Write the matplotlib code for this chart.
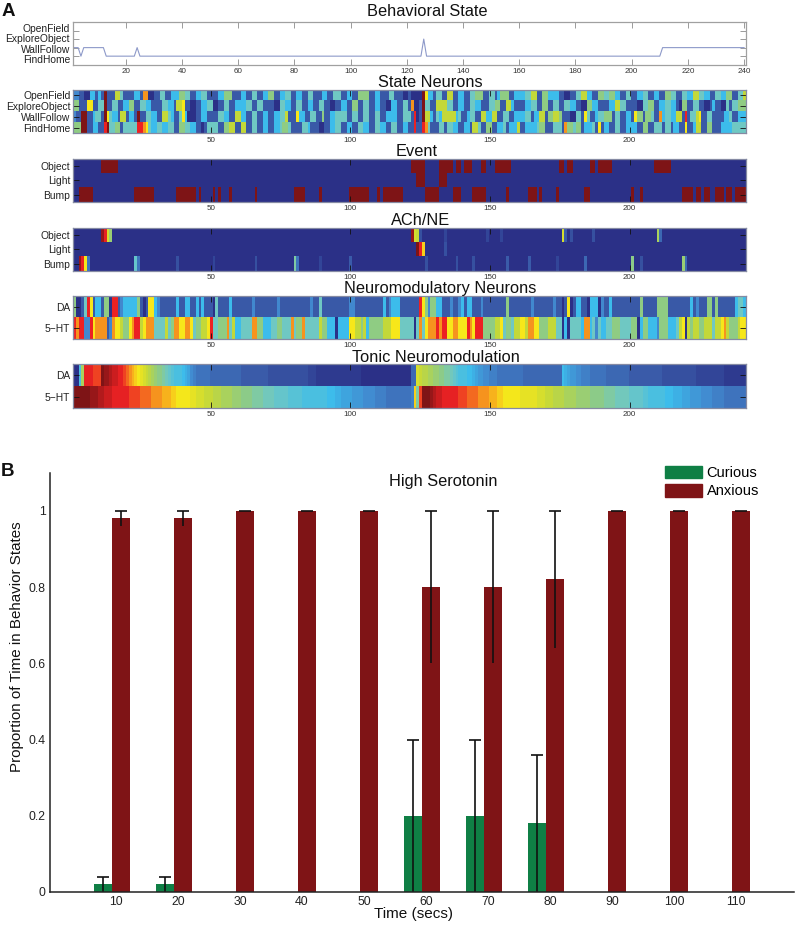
import numpy as np
import matplotlib
matplotlib.use("Agg")
import matplotlib.pyplot as plt
from matplotlib.colors import LinearSegmentedColormap
from matplotlib.patches import Patch

plt.rcParams['font.family'] = ['Liberation Sans', 'DejaVu Sans']

W, H = 797, 926
N_COL = 241

# ---- data -----------------------------------------------------------------
STATE_LABELS = ['OpenField', 'ExploreObject', 'WallFollow', 'FindHome']
EVENT_LABELS = ['Object', 'Light', 'Bump']
NM_LABELS = ['DA', '5\u2212HT']

# behavioural state over time: (state, number of seconds)
BEHAVIOR_RUNS = [(2, 3), (1, 1), (2, 8), (1, 11), (2, 1), (1, 101), (3, 1), (1, 84), (2, 30)]

# one hex digit per column, 0 (low) .. a (high)
STATE_OPENFIELD = """2211003313 1a11166411 1133188001 1441133355
4411334411 1133555111 3311441133 5511334411
3311441113 3114441133 1155551133 1114411100
10000a7331 4411661133 1144555114 4135551133
3344661155 3333110011 4466331155 4455331144
1133441133 1155441144 3366443311 4433551144 6"""
STATE_EXPLORE = """5511177114 4a11441133 5511443311 1144331667
1100113344 0011441133 3344114411 1100443311
4411331144 1100113311 5511441133 1100331144
18001a4411 6666441133 1144331114 4551166311
1133441155 1144114433 1100553311 1133664411
1100445511 3344331055 1144110013 1100414455 5"""
STATE_WALL = """211aa11344 1a74331661 331a114433 1166431147
3000113311 1144331166 3311441133 1133446111
7331144115 1133444411 4411441144 1133331144
41901a6631 4366666341 1344116633 6611441133
3344133661 5566511100 4417411344 5551441133
1755155411 8344336619 1446711441 1113341133 3"""
STATE_HOME = """555aa11331 19a4455144 4449987433 4433441155
4433110144 4411556611 6611441133 1133455411
1144311100 1133441133 1144331144 3311441133
1191198411 1441443311 3316641155 1133413336
1133334551 1144418554 5513334171 3311441133
3311551144 4144133117 1136611551 1133334444 4"""
NEURON_DA = """5001497133 1550991233 3335101773 2111111311
3311313111 0411113111 1111211111 1112111111
1111121141 1111111112 2111111111 1312333111
1111975255 3311121123 1331112111 1111151111
1111211111 1121101701 3311033302 1131111111
1115111115 5551111111 1312111551 5111111344 3"""
NEURON_5HT = """9899229788 8812877655 7899678884 4446458877
8874556679 4455584633 4444885533 3445544484
5584444465 5333033337 7665635555 5666777444
4404847888 9899778877 7987999555 5667455466
7768877555 6664403044 4438834243 3445554444
5503553332 5553334670 6566556664 6678655567 7"""

# on-periods of the event inputs: (first column, last column)
EVENT_OBJECT = [(11, 16), (122, 123), (124, 126), (132, 133), (133, 136), (138, 139),
                (141, 143), (147, 148), (152, 157), (175, 176), (178, 179), (186, 187),
                (189, 193), (209, 214)]
EVENT_LIGHT = [(124, 126), (132, 134)]
EVENT_BUMP = [(3, 7), (23, 29), (38, 44), (46, 46), (51, 51), (53, 53), (57, 57), (66, 66),
              (80, 83), (89, 89), (100, 106), (110, 110), (112, 118), (127, 131), (137, 139),
              (144, 148), (156, 156), (164, 166), (168, 168), (174, 174), (184, 185),
              (201, 201), (204, 204), (219, 222), (224, 225), (227, 228), (231, 233),
              (235, 236), (238, 241)]

# non-baseline ACh/NE columns: (column, level 0..35)
ACH_OBJECT = [(11, 34), (12, 31), (13, 23), (14, 19), (122, 34), (123, 23), (124, 22), (125, 3),
              (134, 2), (149, 2), (154, 2), (176, 23), (177, 4), (179, 3), (187, 3),
              (210, 20), (211, 5)]
ACH_LIGHT = [(124, 35), (125, 31), (126, 26), (134, 3)]
ACH_BUMP = [(3, 34), (4, 31), (5, 25), (6, 6), (23, 15), (24, 6), (38, 3), (51, 2),
            (66, 3), (80, 17), (81, 6), (89, 2), (100, 4), (127, 3), (138, 3), (144, 3),
            (156, 4), (164, 4), (174, 2), (184, 5), (201, 18), (204, 3), (219, 19), (220, 5)]

# one base-36 digit per column, 0 (low) .. z (high)
TONIC_DA = ("00dk" "vvvuuu" "zyy" "xwwvv" "utsr" "qpo" "nmlkjiih" "gfe" "dddcba"
            "87" "66666" "55555555555" "4444444444" "33333333333333222"
            "1111111111111111" "0000000000000000" "00" "55"
            "nmllkkjjiihh" "gfedddccb" "a9988777" "666666666" "55555555555555" "cb"
            "a99887776666665555" "55554444444444443333" "33333333222222222211" "111111")
TONIC_5HT = ("zzzzzz" "yyyxxww" "wvvvvvvuu" "uuttttsss" "srrrqq" "ppppp" "oonnnmmm"
             "lllkkkkjjjiiiihhhhgg" "ggfffffeeeeeddddd" "ddddccc"
             "bbaaaa99998888777766666666" "67" "q" "h" "uzzz" "yxwwvvvvvv" "uuuttttsss"
             "srrrqq" "ppppppooooo" "onnnmmm" "llllkkkkjjjjjiii" "iihhhhgggggfffffe"
             "edddddd" "cccbbbaa" "a99998888777766666666")

# panel B
BAR_TIMES = [10, 20, 30, 40, 50, 60, 70, 80, 90, 100, 110]
CURIOUS = [0.02, 0.02, 0, 0, 0, 0.2, 0.2, 0.18, 0, 0, 0]
ANXIOUS = [0.98, 0.98, 1, 1, 1, 0.8, 0.8, 0.82, 1, 1, 1]
ERRORS = [0.02, 0.02, 0, 0, 0, 0.2, 0.2, 0.18, 0, 0, 0]
Y_TICKS_B = [0, 0.2, 0.4, 0.6, 0.8, 1]
Y_TICKLABELS_B = ['0', '0.2', '0.4', '0.6', '0.8', '1']

# ---- colours ---------------------------------------------------------------
LEVEL_T = [0, .11, .22, .34, .45, .52, .62, .72, .80, .88, 1.0]
LEVEL_C = ['#2b3087', '#3a5aa8', '#4289cf', '#3cbcec', '#6fc8c4', '#8fcc84',
           '#c3d83a', '#f8e81a', '#f7941e', '#ed2224', '#7e1416']
CMAP = LinearSegmentedColormap.from_list('cmykjet', list(zip(LEVEL_T, LEVEL_C)), N=512)
SPINE = '#858aa3'
GREEN, RED = '#0f7f45', '#7f1416'


def hex_row(s):
    d = ''.join(s.split())
    d = d[:N_COL].ljust(N_COL, d[-1])
    return [LEVEL_T[int(c, 16)] for c in d]


def b36_row(s):
    d = s[:N_COL].ljust(N_COL, s[-1])
    return [int(c, 36) / 35 for c in d]


def run_row(runs):
    r = np.zeros(N_COL)
    for a, b in runs:
        r[a - 1:b] = 1
    return r


def sparse_row(items):
    r = np.zeros(N_COL)
    for c, v in items:
        r[c - 1] = v / 35
    return r


def axes_px(left, top, right, bottom):
    return fig.add_axes([left / W, 1 - bottom / H, (right - left) / W, (bottom - top) / H])


fig = plt.figure(figsize=(W / 100, H / 100), dpi=100)


def style(ax, col, xt, yt, ylabels, spine=SPINE):
    for s in ax.spines.values():
        s.set_color(spine)
        s.set_linewidth(0.9)
    ax.set_xticks(xt)
    ax.set_yticks(yt)
    ax.set_yticklabels(ylabels, fontsize=7.4, color='#222222')
    ax.tick_params(axis='y', direction='in', length=4, width=0.6, color=col, left=True, right=True, pad=1.5)
    ax.tick_params(axis='x', direction='in', length=4, width=0.6, color=col, top=True, bottom=True,
                   labelsize=5.8, labelcolor='#333333', pad=2.2)


def heat(top, rows, ylabels):
    ax = axes_px(72.5, top, 745.5, top + 43.5)
    data = np.array(rows)
    ax.imshow(data, aspect='auto', cmap=CMAP, vmin=0, vmax=1, interpolation='nearest',
              extent=(0.5, N_COL + 0.5, len(rows) + 0.5, 0.5))
    style(ax, '#111111', [50, 100, 150, 200], range(1, len(rows) + 1), ylabels)
    return ax


# behavioural state line
ax0 = axes_px(72.5, 22, 745.5, 64.7)
states = np.repeat([r[0] for r in BEHAVIOR_RUNS], [r[1] for r in BEHAVIOR_RUNS])
ax0.plot(np.arange(1, len(states) + 1), states, color='#8d99c9', lw=0.8)
ax0.set_xlim(1, 240.5)
ax0.set_ylim(0, 5)
style(ax0, '#8a8a8a', list(range(20, 241, 20)), [4, 3, 2, 1], [''] * 4, spine='#a0a0a0')
for lab, y in zip(STATE_LABELS, [29, 39, 49.7, 60]):
    fig.text(70 / W, 1 - y / H, lab, ha='right', va='center', fontsize=7.4, color='#222222')

heat(90, [hex_row(STATE_OPENFIELD), hex_row(STATE_EXPLORE), hex_row(STATE_WALL), hex_row(STATE_HOME)],
     STATE_LABELS)
heat(158.5, [run_row(EVENT_OBJECT), run_row(EVENT_LIGHT), run_row(EVENT_BUMP)], EVENT_LABELS)
heat(227.5, [sparse_row(ACH_OBJECT), sparse_row(ACH_LIGHT), sparse_row(ACH_BUMP)], EVENT_LABELS)
heat(295.8, [hex_row(NEURON_DA), hex_row(NEURON_5HT)], NM_LABELS)
heat(364.5, [b36_row(TONIC_DA), b36_row(TONIC_5HT)], NM_LABELS)

for label, x, y in [('Behavioral State', 427.5, 11), ('State Neurons', 430, 82.5), ('Event', 417, 151.5),
                    ('ACh/NE', 421, 220), ('Neuromodulatory Neurons', 440, 289),
                    ('Tonic Neuromodulation', 435.5, 357.5)]:
    fig.text(x / W, 1 - y / H, label, ha='center', va='center', fontsize=11.8, color='#111111')

fig.text(2 / W, 1 - 11 / H, 'A', fontsize=13.5, fontweight='bold', va='center', color='#111111')
fig.text(1 / W, 1 - 472 / H, 'B', fontsize=13.5, fontweight='bold', va='center', color='#111111')

# panel B
axb = axes_px(50, 472.7, 794, 892)
t = np.array(BAR_TIMES, dtype=float)
bw = 2.9
cur = np.array(CURIOUS)
anx = np.array(ANXIOUS)
e = np.array(ERRORS)
axb.bar(t - bw / 2, cur, width=bw, color=GREEN)
axb.bar(t + bw / 2, anx, width=bw, color=RED)
shown = e > 0
axb.vlines(t[shown] - bw / 2, (cur - e)[shown], (cur + e)[shown], color='#111111', lw=1.2)
axb.vlines(t[shown] + bw / 2, (anx - e)[shown], (anx + e)[shown], color='#111111', lw=1.2)
axb.plot(t[shown] - bw / 2, (cur + e)[shown], ls='none', marker='_', ms=9, mew=1.2, color='#111111')
axb.plot(t + bw / 2, anx + e, ls='none', marker='_', ms=9, mew=1.2, color='#111111', clip_on=False)
axb.set_xlim(0, 120)
axb.set_ylim(0, 1.1)
axb.set_xticks(t + 0.65)
axb.set_xticklabels([str(v) for v in BAR_TIMES])
axb.set_yticks(Y_TICKS_B)
axb.set_yticklabels(Y_TICKLABELS_B)
axb.tick_params(length=0, labelsize=8.8, labelcolor='#222222', pad=3)
axb.spines['top'].set_visible(False)
axb.spines['right'].set_visible(False)
for s in ('left', 'bottom'):
    axb.spines[s].set_linewidth(1.1)
    axb.spines[s].set_color('#222222')
fig.text(413 / W, 1 - 914 / H, 'Time (secs)', ha='center', va='center', fontsize=11, color='#111111')
fig.text(17 / W, 1 - 647 / H, 'Proportion of Time in Behavior States', rotation=90,
         ha='center', va='center', fontsize=10.9, color='#111111')
fig.text(443 / W, 1 - 482 / H, 'High Serotonin', ha='center', va='center', fontsize=11.8, color='#111111')
fig.legend(handles=[Patch(color=GREEN, label='Curious'), Patch(color=RED, label='Anxious')],
           loc='upper left', bbox_to_anchor=(665 / W, 1 - 465.5 / H), frameon=False, fontsize=10.5,
           handlelength=2.55, handleheight=0.95, labelspacing=0.3, handletextpad=0.3,
           borderpad=0, borderaxespad=0)

fig.savefig('out.png', dpi=100)
